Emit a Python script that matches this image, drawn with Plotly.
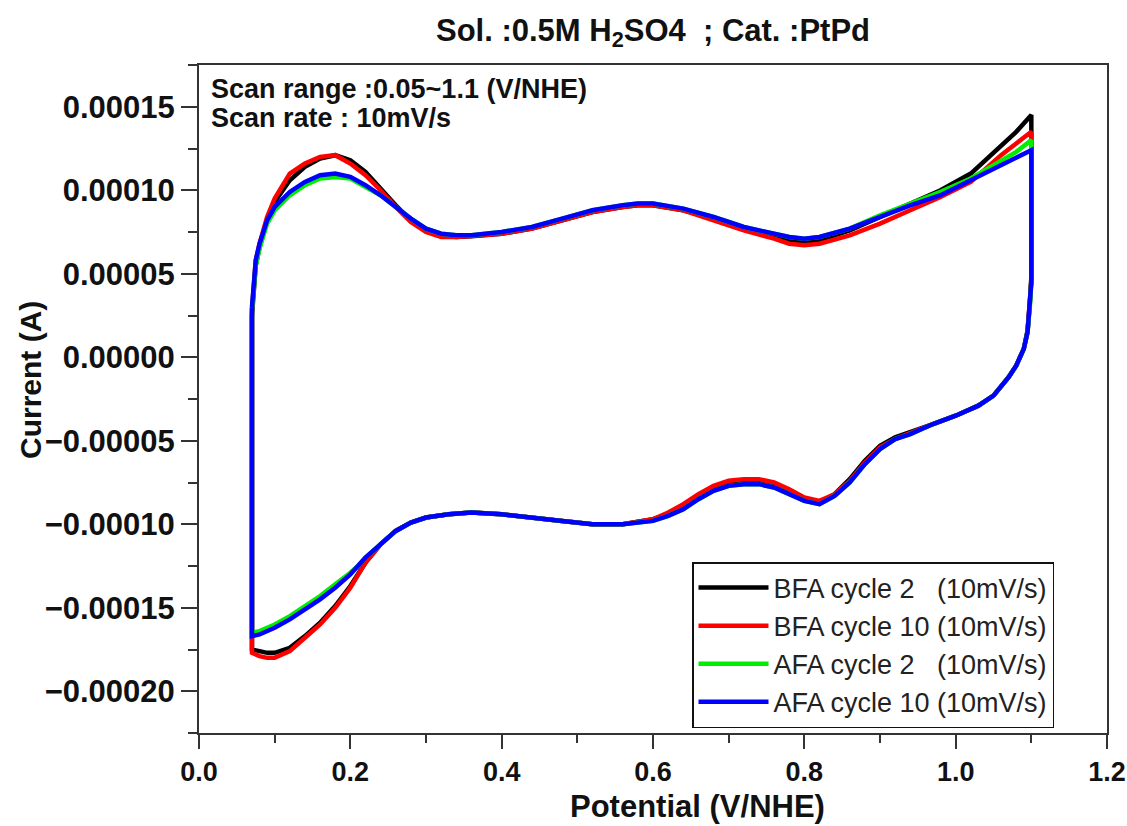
import plotly.graph_objects as go

# Potentials (V/NHE)
anodic_v = [0.07, 0.072, 0.075, 0.08, 0.09, 0.10, 0.12, 0.14, 0.16, 0.18, 0.20, 0.22, 0.24, 0.26, 0.28,
            0.30, 0.32, 0.34, 0.36, 0.40, 0.44, 0.48, 0.52, 0.56, 0.58, 0.60, 0.64, 0.68, 0.72, 0.76,
            0.78, 0.80, 0.82, 0.86, 0.90, 0.94, 0.98, 1.02, 1.06, 1.08, 1.10]
cathodic_v = [1.10, 1.098, 1.095, 1.09, 1.08, 1.07, 1.06, 1.05, 1.03, 1.00, 0.97, 0.94, 0.92, 0.90,
              0.88, 0.86, 0.84, 0.82, 0.80, 0.78, 0.76, 0.74, 0.72, 0.70, 0.68, 0.66, 0.64, 0.62,
              0.60, 0.56, 0.52, 0.48, 0.44, 0.40, 0.36, 0.33, 0.30, 0.28, 0.26, 0.24, 0.22, 0.21,
              0.20, 0.18, 0.16, 0.14, 0.12, 0.10, 0.09, 0.08, 0.07]

# Currents in microampere
bfa2_anodic = [25, 42, 55, 66, 82, 93, 106, 114, 119, 121, 118, 111, 101, 91, 82,
               76, 73, 72, 72.5, 74, 77, 82, 87, 90, 91, 91, 88, 83, 77, 72,
               70, 69, 70, 76, 84, 92, 100, 110, 127, 135, 145]
bfa10_anodic = [28, 45, 58, 68, 84, 95, 110, 116, 120, 121, 116, 109, 100, 90, 81,
                75, 72, 72, 72.5, 74, 77, 82, 87, 90, 91, 91, 88, 82, 76, 71,
                68, 67, 68, 73, 80, 88, 96, 105, 121, 128, 135]
afa2_anodic = [28, 43, 55, 65, 80, 88, 97, 103, 107, 108, 107, 102, 97, 90, 83,
               77, 74, 73, 73, 75, 78, 83, 88, 91, 92, 92, 89, 84, 78, 74,
               72, 71, 72, 77, 85, 92, 99, 107, 118, 123, 130]
afa10_anodic = [30, 45, 58, 68, 82, 90, 99, 105, 109, 110, 108, 103, 97, 90, 83,
                77, 74, 73, 73, 75, 78, 83, 88, 91, 92, 92, 89, 84, 78, 74,
                72, 71, 72, 77, 84, 91, 97, 106, 115, 119, 124]

bfa2_cathodic = [48, 32, 16, 5, -5, -12, -18, -23, -29, -35, -40, -45, -48, -53,
                 -62, -73, -82, -87, -85, -80, -76, -74, -74, -75, -78, -83, -89, -94,
                 -97, -100, -100, -98, -96, -94, -93, -94, -96, -99, -104, -112, -123, -130,
                 -137, -149, -159, -167, -174, -177, -177, -176, -175]
bfa10_cathodic = [46, 30, 15, 5, -5, -12, -18, -23, -29, -35, -40, -45, -49, -54,
                  -63, -74, -82, -86, -84, -79, -75, -73, -73, -74, -77, -82, -88, -93,
                  -97, -100, -100, -98, -96, -94, -93, -94, -96, -99, -104, -112, -123, -130,
                  -138, -150, -160, -168, -176, -180, -180, -179, -177]
afa2_cathodic = [45, 30, 15, 5, -5, -12, -18, -23, -29, -35, -40, -46, -49, -55,
                 -64, -75, -83, -88, -86, -82, -78, -76, -76, -77, -80, -85, -91, -95,
                 -98, -100, -100, -98, -96, -94, -93, -94, -96, -99, -104, -112, -120, -125,
                 -129, -136, -143, -149, -155, -160, -162, -164, -165]
afa10_cathodic = [45, 30, 15, 5, -5, -12, -18, -23, -29, -35, -40, -46, -49, -55,
                  -64, -75, -83, -88, -86, -82, -78, -76, -76, -77, -80, -85, -91, -95,
                  -98, -100, -100, -98, -96, -94, -93, -94, -96, -99, -104, -112, -120, -125,
                  -130, -138, -145, -151, -157, -162, -164, -166, -167]

series_names = ["BFA cycle 2\u00a0\u00a0\u00a0(10mV/s)", "BFA cycle 10 (10mV/s)",
                "AFA cycle 2\u00a0\u00a0\u00a0(10mV/s)", "AFA cycle 10 (10mV/s)"]
series_colors = ["#000000", "#ff0000", "#00ee00", "#0000ff"]
series_anodic = [bfa2_anodic, bfa10_anodic, afa2_anodic, afa10_anodic]
series_cathodic = [bfa2_cathodic, bfa10_cathodic, afa2_cathodic, afa10_cathodic]

fig = go.Figure()
for name, color, an, ca in zip(series_names, series_colors, series_anodic, series_cathodic):
    xs = anodic_v + cathodic_v + [anodic_v[0]]
    ys = [v * 1e-6 for v in an + ca + [an[0]]]
    fig.add_trace(go.Scatter(x=xs, y=ys, mode="lines", name=name,
                             line=dict(color=color, width=4.5)))

axis_font = "Liberation Sans, Arial, sans-serif"
L, R, T, B = 199, 1107, 65, 733
PW, PH = R - L, B - T

fig.update_layout(
    width=1127, height=826,
    margin=dict(l=L, r=1127 - R, t=T, b=826 - B, autoexpand=False),
    paper_bgcolor="white", plot_bgcolor="white",
    font=dict(family=axis_font, color="#111111"),
    title=dict(text="<b>Sol. :0.5M H<sub>2</sub>SO4\u00a0\u00a0; Cat. :PtPd</b>",
               x=(L + R) / 2 / 1127, xanchor="center", y=1 - 30 / 826, yanchor="middle",
               font=dict(size=31, family=axis_font, color="#111111")),
    showlegend=True,
    legend=dict(x=(692 - L) / PW, y=(B - 562) / PH, xanchor="left", yanchor="top",
                bgcolor="white", bordercolor="#111111", borderwidth=1.5,
                font=dict(size=27, family=axis_font, color="#222222"),
                tracegroupgap=0, itemwidth=70),
)
fig.update_xaxes(
    range=[0, 1.2], dtick=0.2, tick0=0, tickformat=".1f", automargin=False,
    ticklabeloverflow="allow",
    showline=True, linecolor="#333333", linewidth=2, mirror=True,
    ticks="outside", ticklen=14, tickwidth=2, tickcolor="#333333",
    minor=dict(ticks="outside", ticklen=8, tickwidth=2, tickcolor="#333333", dtick=0.1),
    showgrid=False, zeroline=False,
    tickfont=dict(size=27, family=axis_font, weight="bold"),
)
fig.update_yaxes(
    range=[-0.000225, 0.000175], dtick=0.00005, tick0=0, tickformat=".5f", automargin=False,
    ticklabeloverflow="allow",
    showline=True, linecolor="#333333", linewidth=2, mirror=True,
    ticks="outside", ticklen=16, tickwidth=2, tickcolor="#333333",
    minor=dict(ticks="outside", ticklen=9, tickwidth=2, tickcolor="#333333", dtick=0.000025),
    showgrid=False, zeroline=False,
    tickfont=dict(size=31, family=axis_font, weight="bold"),
)
# axis titles (offset as in the reference)
fig.add_annotation(xref="paper", yref="paper", x=(697 - L) / PW, y=(B - 806) / PH,
                   xanchor="center", yanchor="middle", showarrow=False,
                   text="<b>Potential (V/NHE)</b>",
                   font=dict(size=31, family=axis_font, color="#111111"))
fig.add_annotation(xref="paper", yref="paper", x=(30 - L) / PW, y=(B - 380) / PH,
                   xanchor="center", yanchor="middle", showarrow=False, textangle=-90,
                   text="<b>Current (A)</b>",
                   font=dict(size=30, family=axis_font, color="#111111"))
fig.add_annotation(xref="paper", yref="paper", x=10 / PW, y=1 - 24 / PH, xanchor="left", yanchor="middle",
                   text="<b>Scan range :0.05~1.1 (V/NHE)</b>", showarrow=False,
                   font=dict(size=27, family=axis_font, color="#111111"))
fig.add_annotation(xref="paper", yref="paper", x=10 / PW, y=1 - 53 / PH, xanchor="left", yanchor="middle",
                   text="<b>Scan rate : 10mV/s</b>", showarrow=False,
                   font=dict(size=27, family=axis_font, color="#111111"))

fig.write_html("out.html")
